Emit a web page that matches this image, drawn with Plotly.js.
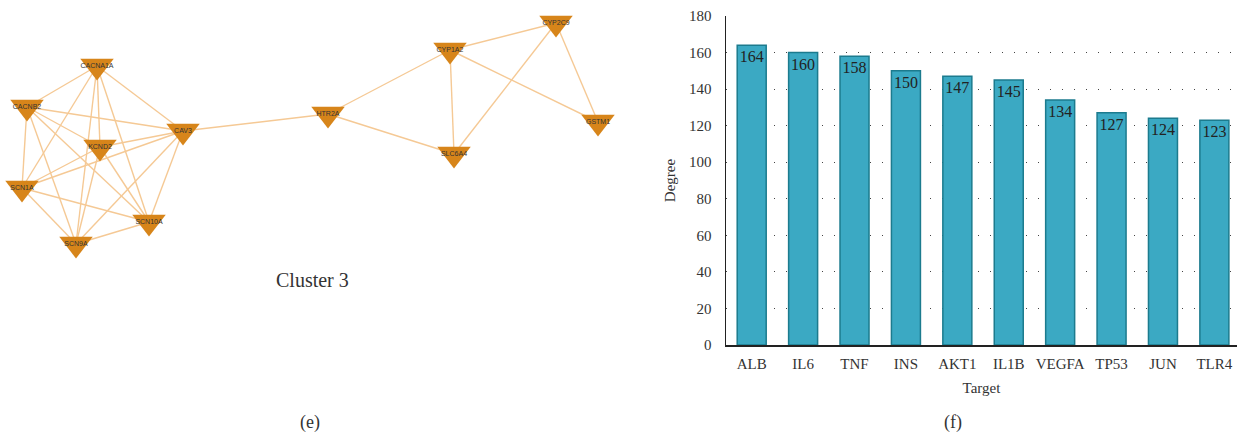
<!DOCTYPE html>
<html>
<head>
<meta charset="utf-8">
<script src="https://cdn.plot.ly/plotly-3.0.1.min.js"></script>
<style>html,body{margin:0;padding:0;background:#fff;}#chart{width:1237px;height:436px;}</style>
</head>
<body>
<div id="chart"></div>
<script>
// ---- Bar chart (f) ----
const targets = ["ALB", "IL6", "TNF", "INS", "AKT1", "IL1B", "VEGFA", "TP53", "JUN", "TLR4"];
const degrees = [164, 160, 158, 150, 147, 145, 134, 127, 124, 123];
const degreeTicks = [0, 20, 40, 60, 80, 100, 120, 140, 160, 180];

// ---- Network (e), Cluster 3 : node layout ----
const nodeNames = ["CACNA1A", "CACNB2", "KCND2", "CAV3", "SCN1A", "SCN10A", "SCN9A",
                   "HTR2A", "CYP1A2", "CYP2C9", "GSTM1", "SLC6A4"];
const nodeX = [97, 27, 100, 183, 22, 149, 76, 328, 450, 556, 598, 454];
const nodeY = [66, 107, 147, 131, 188, 222, 244, 114, 50, 23, 122, 154];
const edgeFrom = ["CACNA1A","CACNA1A","CACNA1A","CACNA1A","CACNA1A","CACNA1A",
                  "CACNB2","CACNB2","CACNB2","CACNB2","CACNB2",
                  "KCND2","KCND2","KCND2","KCND2",
                  "CAV3","CAV3","CAV3","CAV3",
                  "SCN1A","SCN1A","SCN9A",
                  "HTR2A","HTR2A","CYP1A2","CYP1A2","CYP1A2","CYP2C9","CYP2C9"];
const edgeTo   = ["CACNB2","CAV3","KCND2","SCN1A","SCN9A","SCN10A",
                  "CAV3","KCND2","SCN1A","SCN9A","SCN10A",
                  "SCN1A","SCN9A","SCN10A","CAV3",
                  "SCN1A","SCN9A","SCN10A","HTR2A",
                  "SCN10A","SCN9A","SCN10A",
                  "CYP1A2","SLC6A4","CYP2C9","SLC6A4","GSTM1","SLC6A4","GSTM1"];

const serif = "Liberation Serif, Times New Roman, serif";

const ex = [], ey = [];
for (let i = 0; i < edgeFrom.length; i++) {
  const a = nodeNames.indexOf(edgeFrom[i]), b = nodeNames.indexOf(edgeTo[i]);
  ex.push(nodeX[a], nodeX[b], null);
  ey.push(nodeY[a], nodeY[b], null);
}

const traces = [
  {
    type: "bar", x: targets, y: degrees, xaxis: "x", yaxis: "y",
    marker: {color: "#3BA9C3", line: {color: "#1C7B8E", width: 1.5}},
    text: degrees.map(String), textposition: "inside", insidetextanchor: "end", textangle: 0,
    textfont: {family: serif, size: 16, color: "#222"}, constraintext: "none",
    hoverinfo: "skip"
  },
  {
    type: "scatter", mode: "lines", x: ex, y: ey, xaxis: "x2", yaxis: "y2",
    line: {color: "#F5C995", width: 1.4}, hoverinfo: "skip"
  },
  {
    type: "scatter", mode: "markers+text", x: nodeX, y: nodeY, xaxis: "x2", yaxis: "y2",
    marker: {symbol: "triangle-down", size: 29, color: "#D7851A", line: {width: 0}},
    text: nodeNames, textposition: "middle center",
    textfont: {family: "Liberation Sans, Arial, sans-serif", size: 7, color: "#333"},
    hoverinfo: "skip"
  }
];

const layout = {
  width: 1237, height: 436,
  margin: {l: 0, r: 0, t: 0, b: 0},
  paper_bgcolor: "#fff", plot_bgcolor: "rgba(0,0,0,0)",
  showlegend: false,
  bargap: 0.436,
  font: {family: serif, color: "#333"},
  xaxis: {
    domain: [726/1237, 1], range: [-0.5, 9.44], type: "category",
    showline: true, linecolor: "#222", linewidth: 1.5, showgrid: false, zeroline: false,
    ticks: "", ticklabelstandoff: 4, tickfont: {family: serif, size: 15, color: "#333"},
    title: {text: "Target", font: {family: serif, size: 15, color: "#333"}, standoff: 12},
    fixedrange: true
  },
  yaxis: {
    domain: [91/436, 420/436], range: [0, 180],
    tickvals: degreeTicks, ticktext: degreeTicks.map(String),
    showline: true, linecolor: "#222", linewidth: 1.5, zeroline: false,
    showgrid: true, gridcolor: "#444", gridwidth: 1.2, griddash: "1px,11px",
    ticks: "", ticklabelstandoff: 10,
    tickfont: {family: serif, size: 15, color: "#333"},
    title: {text: "Degree", font: {family: serif, size: 15, color: "#333"}, standoff: 10},
    fixedrange: true
  },
  xaxis2: {domain: [0, 620/1237], range: [0, 620], visible: false, fixedrange: true},
  yaxis2: {domain: [136/436, 1], range: [300, 0], visible: false, fixedrange: true},
  annotations: [
    {text: "Cluster 3", xref: "paper", yref: "paper", x: 312/1237, y: 1 - 280/436,
     showarrow: false, xanchor: "center", yanchor: "middle",
     font: {family: serif, size: 20, color: "#333"}},
    {text: "(e)", xref: "paper", yref: "paper", x: 310/1237, y: 1 - 422/436,
     showarrow: false, xanchor: "center", yanchor: "middle",
     font: {family: serif, size: 18, color: "#333"}},
    {text: "(f)", xref: "paper", yref: "paper", x: 953/1237, y: 1 - 422/436,
     showarrow: false, xanchor: "center", yanchor: "middle",
     font: {family: serif, size: 18, color: "#333"}}
  ]
};

Plotly.newPlot("chart", traces, layout, {displayModeBar: false, staticPlot: true});
</script>
</body>
</html>
